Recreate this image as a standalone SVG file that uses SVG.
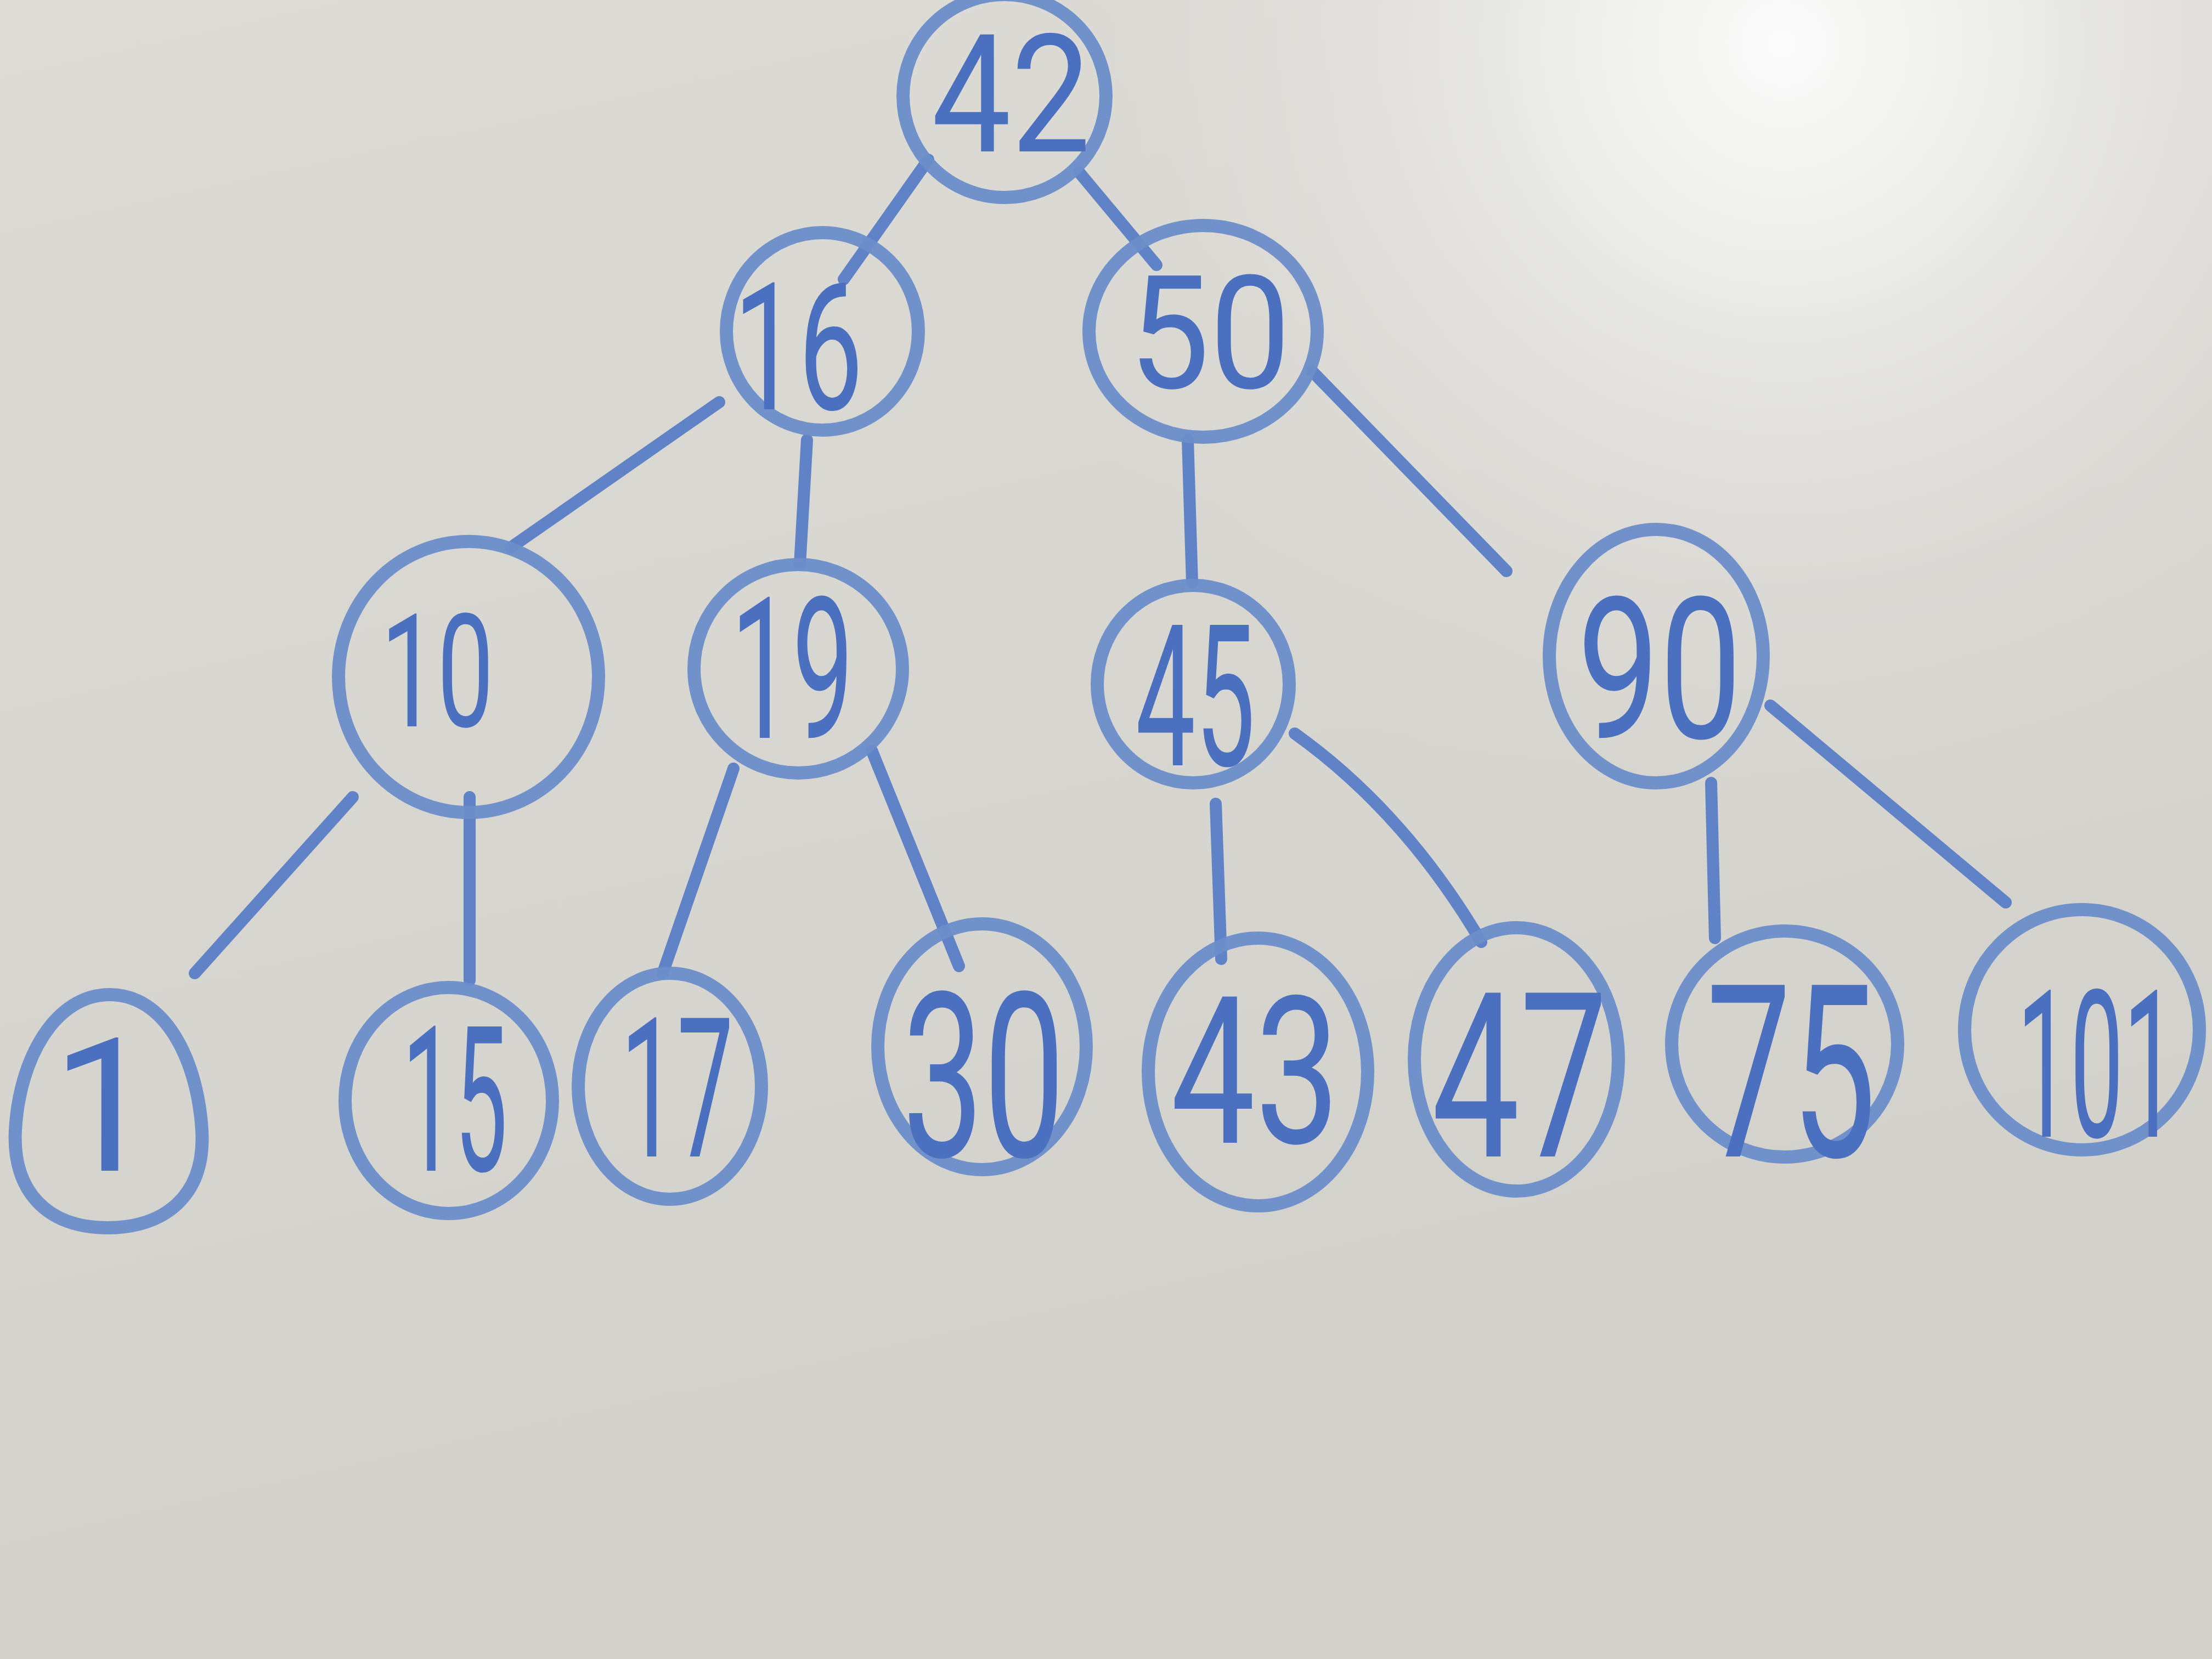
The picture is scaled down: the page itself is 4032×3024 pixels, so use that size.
<svg xmlns="http://www.w3.org/2000/svg" width="4032" height="3024" viewBox="0 0 4032 3024">
<defs>
<radialGradient id="glare" cx="3250" cy="80" r="1500" gradientUnits="userSpaceOnUse">
<stop offset="0" stop-color="#fbfbfb"/>
<stop offset="0.25" stop-color="#eeeeec"/>
<stop offset="0.6" stop-color="#e0dfdb" stop-opacity="0.6"/>
<stop offset="1" stop-color="#d8d7d2" stop-opacity="0"/>
</radialGradient>
<linearGradient id="base" x1="0" y1="0" x2="0.3" y2="1">
<stop offset="0" stop-color="#dcdbd6"/>
<stop offset="0.6" stop-color="#d6d5d0"/>
<stop offset="1" stop-color="#d1d0cb"/>
</linearGradient>
<style>
.ring{fill:none;stroke:#6b8dca;stroke-width:24;stroke-opacity:0.95}
.edge{fill:none;stroke:#5f83c6;stroke-width:22;stroke-linecap:round}
.num{font-family:Roboto,"Liberation Sans","DejaVu Sans",sans-serif;fill:#4b70bf;text-anchor:middle}
</style>
</defs>
<rect width="4032" height="3024" fill="url(#base)"/>
<rect width="4032" height="3024" fill="url(#glare)"/>
<g id="connectors">
<line class="edge" x1="1692" y1="291" x2="1538" y2="509"/>
<line class="edge" x1="1967" y1="314" x2="2108" y2="483"/>
<line class="edge" x1="1311" y1="733" x2="931" y2="998"/>
<line class="edge" x1="1471" y1="802" x2="1458" y2="1028"/>
<line class="edge" x1="2165" y1="802" x2="2173" y2="1062"/>
<line class="edge" x1="2391" y1="676" x2="2746" y2="1041"/>
<line class="edge" x1="643" y1="1453" x2="355" y2="1774"/>
<line class="edge" x1="856" y1="1453" x2="856" y2="1787"/>
<line class="edge" x1="1337" y1="1401" x2="1208" y2="1774"/>
<line class="edge" x1="1589" y1="1368" x2="1748" y2="1761"/>
<line class="edge" x1="2216" y1="1465" x2="2226" y2="1748"/>
<path class="edge" d="M2360 1337 Q2560 1480 2700 1717"/>
<line class="edge" x1="3119" y1="1427" x2="3126" y2="1710"/>
<line class="edge" x1="3227" y1="1286" x2="3656" y2="1645"/>
</g>
<g id="node-42"><ellipse class="ring" cx="1831" cy="175" rx="185" ry="185"/><text class="num" x="1843" y="276" font-size="300" textLength="290" lengthAdjust="spacingAndGlyphs">42</text></g>
<g id="node-16"><ellipse class="ring" cx="1499" cy="604" rx="175" ry="180"/><text class="num" x="1455" y="746" font-size="324" textLength="236" lengthAdjust="spacingAndGlyphs">16</text></g>
<g id="node-50"><ellipse class="ring" cx="2193" cy="604" rx="208" ry="193"/><text class="num" x="2205" y="707" font-size="288" textLength="295" lengthAdjust="spacingAndGlyphs">50</text></g>
<g id="node-10"><ellipse class="ring" cx="854" cy="1234" rx="237" ry="247"/><text class="num" x="797" y="1324" font-size="288" textLength="206" lengthAdjust="spacingAndGlyphs">10</text></g>
<g id="node-19"><ellipse class="ring" cx="1455" cy="1219" rx="190" ry="190"/><text class="num" x="1444" y="1345" font-size="360" textLength="224" lengthAdjust="spacingAndGlyphs">19</text></g>
<g id="node-45"><ellipse class="ring" cx="2175" cy="1247" rx="175" ry="180"/><text class="num" x="2179" y="1395" font-size="360" textLength="218" lengthAdjust="spacingAndGlyphs">45</text></g>
<g id="node-90"><ellipse class="ring" cx="3019" cy="1196" rx="195" ry="231"/><text class="num" x="3025" y="1345" font-size="360" textLength="300" lengthAdjust="spacingAndGlyphs">90</text></g>
<g id="node-1"><path class="ring" d="M200 1813 C300 1813 360 1930 368 2060 C375 2180 300 2238 195 2238 C85 2238 22 2170 28 2060 C35 1930 100 1813 200 1813 Z"/><text class="num" x="190" y="2134" font-size="340">1</text></g>
<g id="node-15"><ellipse class="ring" cx="818" cy="2006" rx="189" ry="206"/><text class="num" x="829" y="2134" font-size="370" textLength="192" lengthAdjust="spacingAndGlyphs">15</text></g>
<g id="node-17"><ellipse class="ring" cx="1221" cy="1980" rx="167" ry="206"/><text class="num" x="1234" y="2108" font-size="355" textLength="206" lengthAdjust="spacingAndGlyphs">17</text></g>
<g id="node-30"><ellipse class="ring" cx="1790" cy="1908" rx="190" ry="224"/><text class="num" x="1793" y="2108" font-size="420" textLength="296" lengthAdjust="spacingAndGlyphs">30</text></g>
<g id="node-43"><ellipse class="ring" cx="2293" cy="1954" rx="200" ry="244"/><text class="num" x="2288" y="2083" font-size="375" textLength="308" lengthAdjust="spacingAndGlyphs">43</text></g>
<g id="node-47"><ellipse class="ring" cx="2764" cy="1931" rx="186" ry="240"/><text class="num" x="2770" y="2108" font-size="420" textLength="321" lengthAdjust="spacingAndGlyphs">47</text></g>
<g id="node-75"><ellipse class="ring" cx="3253" cy="1903" rx="206" ry="206"/><text class="num" x="3265" y="2108" font-size="440" textLength="310" lengthAdjust="spacingAndGlyphs">75</text></g>
<g id="node-101"><ellipse class="ring" cx="3795" cy="1877" rx="214" ry="219"/><text class="num" transform="translate(3822 2072) scale(0.46 1)" x="0" y="0" font-size="375">101</text></g>
</svg>
